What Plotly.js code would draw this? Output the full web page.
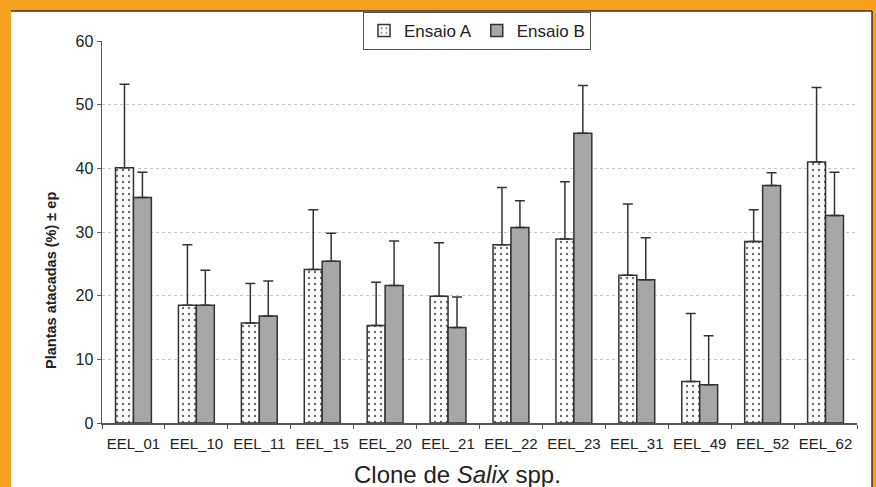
<!DOCTYPE html>
<html>
<head>
<meta charset="utf-8">
<script src="https://cdn.plot.ly/plotly-3.0.1.min.js"></script>
<style>
html,body{margin:0;padding:0;background:#F6A01F;}
#chart{width:876px;height:487px;}
</style>
</head>
<body>
<div id="chart"></div>
<script>
// Data
var clones = ["EEL_01","EEL_10","EEL_11","EEL_15","EEL_20","EEL_21","EEL_22","EEL_23","EEL_31","EEL_49","EEL_52","EEL_62"];
var ensaioA = [40.1, 18.5, 15.7, 24.1, 15.3, 19.9, 28.0, 28.9, 23.2, 6.5, 28.5, 41.0];
var ensaioA_ep = [13.1, 9.5, 6.2, 9.4, 6.8, 8.4, 9.0, 9.0, 11.2, 10.7, 5.0, 11.7];
var ensaioB = [35.4, 18.5, 16.8, 25.4, 21.6, 15.0, 30.7, 45.5, 22.5, 6.0, 37.3, 32.6];
var ensaioB_ep = [4.0, 5.5, 5.5, 4.4, 7.0, 4.8, 4.2, 7.5, 6.6, 7.7, 2.0, 6.8];
var zerosA = ensaioA.map(function(){return 0;});
var zerosB = ensaioB.map(function(){return 0;});

var FONT = "Liberation Sans, Arial, sans-serif";
var OUT = "#333333";

var traceA = {
  type: "bar", name: "Ensaio A", x: clones, y: ensaioA,
  marker: {color: "#ffffff", line: {color: OUT, width: 1.5},
           pattern: {shape: ".", fgcolor: "#6a6a6a", bgcolor: "#ffffff", size: 6, solidity: 0.12}},
  error_y: {type: "data", array: ensaioA_ep, arrayminus: zerosA, symmetric: false,
            color: OUT, thickness: 1.5, width: 5}
};
var traceB = {
  type: "bar", name: "Ensaio B", x: clones, y: ensaioB,
  marker: {color: "#A6A7A6", line: {color: OUT, width: 1.5}},
  error_y: {type: "data", array: ensaioB_ep, arrayminus: zerosB, symmetric: false,
            color: OUT, thickness: 1.5, width: 5}
};

var layout = {
  width: 876, height: 487,
  margin: {l: 102, r: 19, t: 41, b: 64, pad: 0},
  paper_bgcolor: "#F6A01F",
  plot_bgcolor: "rgba(0,0,0,0)",
  font: {family: FONT, color: "#222222"},
  barmode: "group", bargap: 0.43, bargroupgap: 0,
  showlegend: true,
  legend: {orientation: "h", x: 0.4967, xanchor: "center", y: 1.076, yanchor: "top",
           bordercolor: "#555555", borderwidth: 1, bgcolor: "#ffffff",
           font: {family: FONT, size: 17, color: "#222222"}, traceorder: "normal",
           itemwidth: 20},
  xaxis: {
    type: "category", tickson: "boundaries", ticks: "outside", ticklen: 4, tickcolor: "#555555",
    showline: true, linecolor: "#555555", linewidth: 1.5, showgrid: false,
    tickfont: {family: FONT, size: 15, color: "#222222"}, ticklabelstandoff: 6
  },
  yaxis: {
    range: [0, 60], dtick: 10, ticks: "outside", ticklen: 4, tickcolor: "#555555",
    showline: true, linecolor: "#555555", linewidth: 1.5, zeroline: false,
    showgrid: true, gridcolor: "#c4c4c4", griddash: "dot", gridwidth: 1,
    tickfont: {family: FONT, size: 16, color: "#222222"}
  },
  shapes: [
    {type: "rect", xref: "paper", yref: "paper", x0: -0.1205, x1: 1.0199, y0: -0.25, y1: 1.0785,
     fillcolor: "#ffffff", line: {width: 0}, layer: "below"},
    {type: "line", xref: "paper", yref: "paper", x0: -0.1205, x1: 1.0199, y0: 1.0785, y1: 1.0785,
     line: {color: "#333333", width: 1.5}},
    {type: "line", xref: "paper", yref: "paper", x0: 1.0199, x1: 1.0199, y0: -0.25, y1: 1.0785,
     line: {color: "#333333", width: 1.5}}
  ],
  annotations: [
    {text: "<b>Plantas atacadas (%) ± ep</b>", textangle: -90, xref: "paper", yref: "paper",
     x: -0.0675, y: 0.372, xanchor: "center", yanchor: "middle", showarrow: false,
     font: {family: FONT, size: 14.5, color: "#222222"}},
    {text: "Clone de <i>Salix</i> spp.", xref: "paper", yref: "paper",
     x: 0.4715, y: -0.135, xanchor: "center", yanchor: "middle", showarrow: false,
     font: {family: FONT, size: 24, color: "#222222"}}
  ]
};

Plotly.newPlot("chart", [traceA, traceB], layout, {displayModeBar: false, staticPlot: true});
</script>
</body>
</html>
